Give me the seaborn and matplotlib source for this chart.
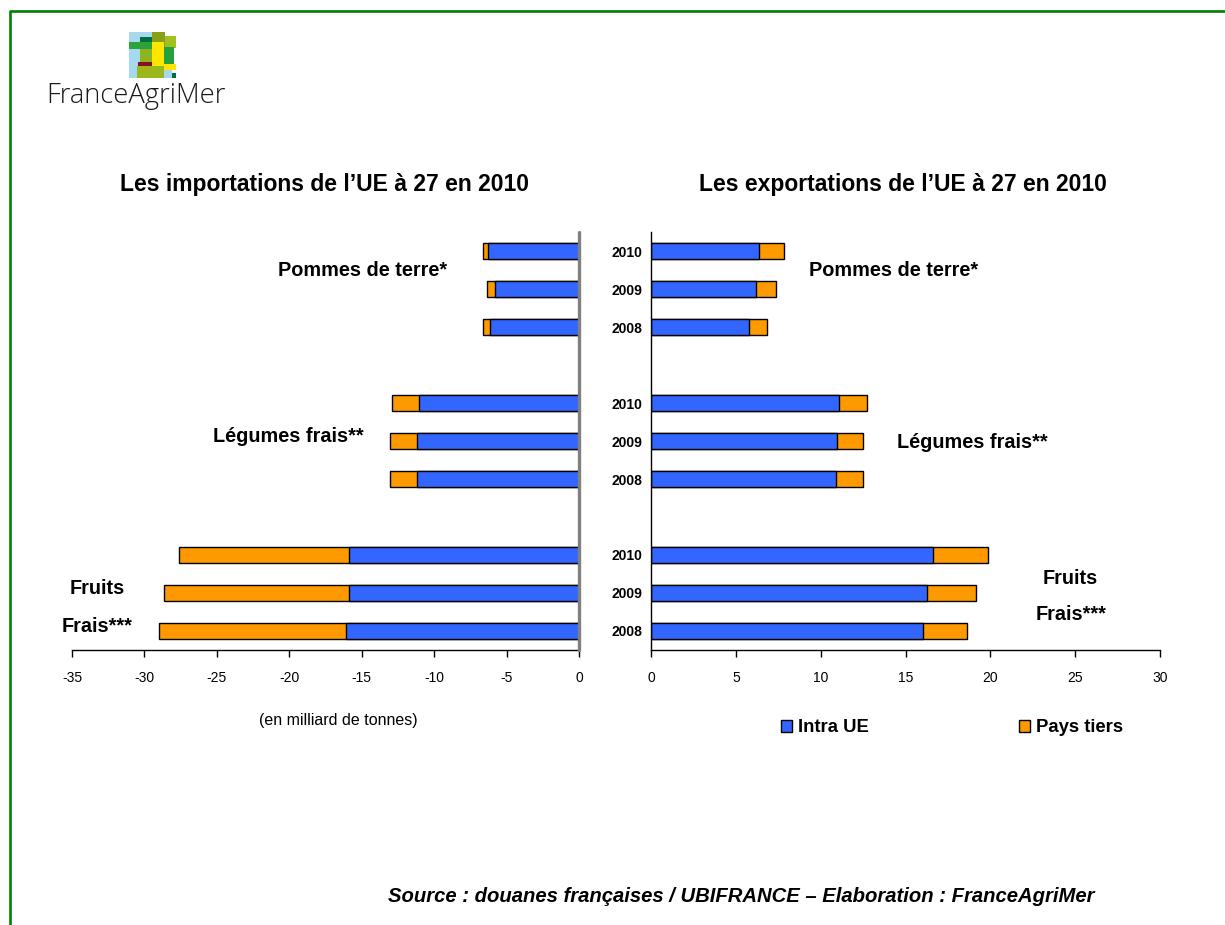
import numpy as np
import pandas as pd
import matplotlib
matplotlib.use("Agg")
import matplotlib.pyplot as plt
from matplotlib.patches import Rectangle
from matplotlib.lines import Line2D
import seaborn as sns

# ---------------- data ----------------
categories = ["Pommes de terre*", "Légumes frais**", "Fruits Frais***"]
years = ["2010", "2009", "2008"]

# Imports (milliard de tonnes), order within each category: 2010, 2009, 2008
imp_intra = [6.26, 5.78, 6.14, 11.02, 11.18, 11.18, 15.86, 15.86, 16.08]
imp_tiers = [0.39, 0.55, 0.51, 1.87, 1.85, 1.85, 11.75, 12.77, 12.89]

# Exports
exp_intra = [6.39, 6.21, 5.80, 11.10, 10.96, 10.90, 16.60, 16.25, 16.03]
exp_tiers = [1.46, 1.15, 1.05, 1.61, 1.54, 1.60, 3.26, 2.90, 2.57]

x_ticks_imp = [-35, -30, -25, -20, -15, -10, -5, 0]
x_ticks_exp = [0, 5, 10, 15, 20, 25, 30]

BLUE = "#3366FF"
ORANGE = "#FF9900"

W, H = 1225, 925

def fx(x):
    return x / W

def fy(y):
    return 1 - y / H

rows = []
for g, cat in enumerate(categories):
    for j, yr in enumerate(years):
        k = g * 3 + j
        rows.append(dict(category=cat, year=yr, pos=g * 4 + j,
                         imp_intra=imp_intra[k], imp_tiers=imp_tiers[k],
                         exp_intra=exp_intra[k], exp_tiers=exp_tiers[k]))
df = pd.DataFrame(rows)
df["imp_total"] = -(df["imp_intra"] + df["imp_tiers"])
df["imp_intra_neg"] = -df["imp_intra"]
df["exp_total"] = df["exp_intra"] + df["exp_tiers"]

sns.set_theme(style="white")
plt.rcParams["font.family"] = ["Liberation Sans", "DejaVu Sans"]
plt.rcParams["text.color"] = "black"
plt.rcParams["xtick.color"] = "black"
plt.rcParams["ytick.color"] = "black"
plt.rcParams["axes.labelcolor"] = "black"

fig = plt.figure(figsize=(W / 100, H / 100), dpi=100)
fig.patch.set_facecolor("white")

axL = fig.add_axes([fx(72), fy(650), fx(579) - fx(72), (650 - 232) / H])
axR = fig.add_axes([fx(651), fy(650), fx(1160) - fx(651), (650 - 232) / H])

bar_w = 0.44
common = dict(orient="h", native_scale=True, errorbar=None, width=bar_w,
              edgecolor="black", linewidth=1.0, saturation=1)

sns.barplot(data=df, x="imp_total", y="pos", color=ORANGE, ax=axL, **common)
sns.barplot(data=df, x="imp_intra_neg", y="pos", color=BLUE, ax=axL, **common)

sns.barplot(data=df, x="exp_total", y="pos", color=ORANGE, ax=axR,
            label="Pays tiers", **common)
sns.barplot(data=df, x="exp_intra", y="pos", color=BLUE, ax=axR,
            label="Intra UE", **common)

for ax in (axL, axR):
    ax.set_ylim(10.5, -0.5)
    ax.set_xlabel("")
    ax.set_ylabel("")
    ax.grid(False)
    ax.set_facecolor("white")
    for s in ax.spines.values():
        s.set_visible(False)
    ax.spines["bottom"].set_visible(True)
    ax.spines["bottom"].set_color("black")
    ax.spines["bottom"].set_linewidth(1.0)
    ax.tick_params(axis="x", which="major", direction="out", length=5,
                   width=1, color="black", labelsize=10, pad=10, bottom=True,
                   labelcolor="black")
    if ax.get_legend() is not None:
        ax.get_legend().remove()

axL.set_xlim(-35, 0)
axL.set_xticks(x_ticks_imp)
axL.set_xticklabels([str(v) for v in x_ticks_imp])
axL.set_yticks([])
axL.axvline(0, color="#808080", lw=2.4, zorder=5, clip_on=False)

axR.set_xlim(0, 30)
axR.set_xticks(x_ticks_exp)
axR.set_xticklabels([str(v) for v in x_ticks_exp])
axR.spines["left"].set_visible(True)
axR.spines["left"].set_color("black")
axR.spines["left"].set_linewidth(1.0)
axR.set_yticks(df["pos"].tolist())
axR.set_yticklabels(df["year"].tolist(), fontsize=10, fontweight="bold")
axR.tick_params(axis="y", length=0, pad=6, labelcolor="black")

# ---------------- texts ----------------
title_kw = dict(fontsize=16.5, fontweight="bold", ha="center", va="center")
fig.text(fx(325), fy(185), "Les importations de l\u2019UE à 27 en 2010", **title_kw)
fig.text(fx(903), fy(185), "Les exportations de l\u2019UE à 27 en 2010", **title_kw)

lab_kw = dict(fontsize=14.3, fontweight="bold", ha="center", va="center")
fig.text(fx(363), fy(270), "Pommes de terre*", **lab_kw)
fig.text(fx(288), fy(436), "Légumes frais**", **lab_kw)
fig.text(fx(97), fy(588), "Fruits", **lab_kw)
fig.text(fx(97), fy(626), "Frais***", **lab_kw)
fig.text(fx(894), fy(270), "Pommes de terre*", **lab_kw)
fig.text(fx(972), fy(442), "Légumes frais**", **lab_kw)
fig.text(fx(1070), fy(578), "Fruits", **lab_kw)
fig.text(fx(1071), fy(615), "Frais***", **lab_kw)

fig.text(fx(338), fy(720), "(en milliard de tonnes)", fontsize=11.5,
         ha="center", va="center")

fig.text(fx(741), fy(896),
         "Source : douanes françaises / UBIFRANCE \u2013 Elaboration : FranceAgriMer",
         fontsize=14.6, fontweight="bold", fontstyle="italic", ha="center", va="center")

# legend
h, l = axR.get_legend_handles_labels()
order = [l.index("Intra UE"), l.index("Pays tiers")]
leg = fig.legend([h[i] for i in order], [l[i] for i in order],
                 loc="center left", bbox_to_anchor=(fx(764), fy(728)),
                 ncol=2, frameon=False, handlelength=0.6, handleheight=0.6,
                 handletextpad=0.35, columnspacing=8.1,
                 prop=dict(family=["Liberation Sans Narrow", "Liberation Sans"],
                           weight="bold", size=13.3))

# ---------------- logo ----------------
logo = [
    ((129, 32, 152, 78), "#a6d8ef"),
    ((152, 32, 165, 47), "#86a01a"),
    ((165, 36, 176, 48), "#a2c01e"),
    ((140, 37, 152, 42), "#00703a"),
    ((129, 42, 152, 49), "#2ea23a"),
    ((164, 47, 174, 64), "#24a03c"),
    ((152, 42, 164, 66), "#ffe600"),
    ((140, 49, 152, 66), "#8db51e"),
    ((138, 62, 152, 66), "#8b0f1e"),
    ((164, 64, 176, 70), "#ffe600"),
    ((137, 66, 164, 78), "#9ab81c"),
    ((164, 70, 172, 78), "#a6d8ef"),
    ((172, 73, 176, 78), "#00703a"),
]
for (x0, y0, x1, y1), c in logo:
    fig.patches.append(Rectangle((fx(x0), fy(y1)), fx(x1) - fx(x0), (y1 - y0) / H,
                                 transform=fig.transFigure, facecolor=c,
                                 edgecolor="none", zorder=3))
fig.text(fx(46), fy(96), "FranceAgriMer", fontsize=19.7, family=["Open Sans", "DejaVu Sans"],
         fontweight="light", color="#1a1a1a", ha="left", va="center")

# ---------------- border ----------------
fig.lines.append(Line2D([fx(10), fx(10), fx(1225)], [fy(925), fy(11), fy(11)],
                        transform=fig.transFigure, color="#008000", lw=1.9))

fig.savefig("out.png", dpi=100, facecolor="white")
